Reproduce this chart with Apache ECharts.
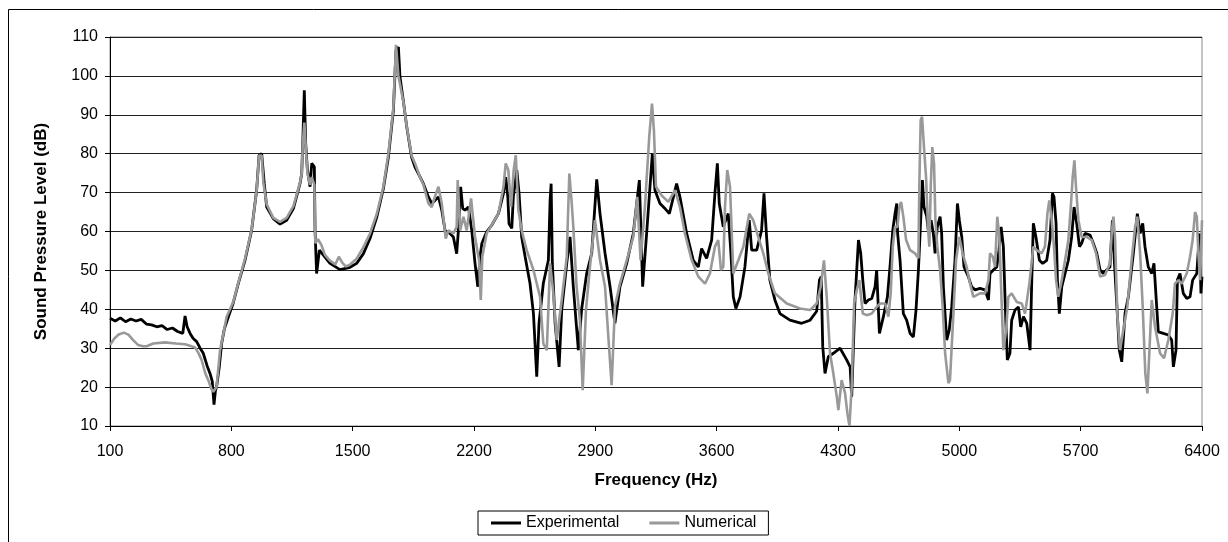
<!DOCTYPE html>
<html>
<head>
<meta charset="utf-8">
<script src="https://cdn.jsdelivr.net/npm/echarts@6/dist/echarts.min.js"></script>
<style>
  html, body { margin: 0; padding: 0; background: #fff; }
  #chartContainer { width: 1228px; height: 542px; }
</style>
</head>
<body>
<div id="chartContainer"></div>
<script>
// Frequency (Hz) / level (dB) pairs
const expFreq = [100,130,160,190,220,250,280,310,340,370,400,430,460,490,520,533,545,562,580,600,620,638,660,677,690,700,708,715,730,744,760,783,810,840,879,917,946,960,975,990,1004,1042,1081,1119,1158,1196,1206,1212,1221,1229,1239,1254,1264,1279,1283,1292,1308,1331,1369,1427,1485,1523,1562,1600,1639,1677,1706,1735,1750,1764,1773,1792,1812,1840,1860,1879,1908,1937,1956,1975,1995,2014,2033,2062,2081,2100,2110,2123,2135,2148,2168,2187,2206,2222,2235,2245,2273,2302,2341,2370,2383,2395,2402,2418,2427,2447,2460,2475,2495,2523,2543,2562,2575,2600,2629,2639,2645,2652,2668,2691,2706,2735,2754,2773,2802,2821,2850,2879,2908,2927,2956,2985,3013,3042,3081,3119,3154,3173,3196,3229,3244,3273,3300,3327,3369,3388,3427,3465,3494,3513,3542,3571,3590,3604,3615,3638,3667,3681,3696,3711,3735,3763,3788,3802,3831,3859,3873,3888,3907,3936,3965,4023,4090,4139,4177,4193,4203,4212,4225,4244,4273,4312,4350,4370,4379,4398,4418,4431,4443,4456,4475,4495,4514,4523,4539,4562,4585,4600,4616,4629,4639,4644,4658,4677,4696,4716,4735,4750,4764,4777,4787,4796,4812,4821,4837,4850,4860,4873,4889,4898,4908,4927,4942,4956,4975,4989,5000,5014,5027,5052,5071,5091,5119,5148,5168,5177,5196,5216,5229,5241,5254,5268,5277,5292,5302,5321,5341,5354,5370,5389,5408,5418,5427,5442,5462,5481,5504,5523,5537,5546,5558,5566,5577,5591,5610,5629,5648,5662,5677,5693,5706,5725,5754,5773,5793,5812,5831,5850,5869,5883,5894,5908,5923,5937,5956,5975,6004,6027,6043,6058,6071,6090,6110,6123,6135,6148,6177,6206,6225,6235,6250,6258,6273,6292,6312,6331,6346,6370,6385,6394,6400];
const expLevel = [37.7,37.0,37.8,36.8,37.5,37.0,37.4,36.2,36.0,35.5,35.8,34.8,35.2,34.3,33.8,38.3,35.5,33.8,32.5,31.7,30.0,28.7,25.5,23.5,21.5,15.5,19.0,20.1,25,31.2,35,38.1,41.5,46.6,52.6,60.3,70.6,79.6,80,72.3,66.3,63.3,61.9,62.9,65.9,72.3,74.9,82.6,96.3,82.6,75.8,71.5,77.5,76.6,60.3,49.2,55.2,53.9,51.8,50.2,50.8,51.8,54.3,58.2,63.7,71,79.1,91.2,106.6,107.4,99.7,93.7,86.9,79.1,76.5,74.9,72.3,68.9,67.2,68,68.9,65.5,60.3,59.5,58.6,54.3,60.3,71.5,65.9,65.5,66.3,60.3,51.8,45.8,53.5,56.9,59.9,61.6,64.6,69.8,74,68.9,62,60.8,68.9,75.8,69.8,58.6,53.5,46.7,38.9,22.7,36.4,46.7,52.6,68,72.3,51.8,36.4,25.2,39.8,51.8,58.6,45.8,29.5,40,49.2,54.4,73.4,64.6,54.4,45.8,36.4,45.8,51.8,59.5,73.2,45.8,59.5,80,70.6,67.2,66,64.6,72.3,68.9,59.5,52.6,50.9,55.6,53.1,57.8,69.8,77.5,67.2,61.2,64.6,55.2,43.2,40.2,43.2,50.9,62.9,55.2,55.2,60.3,69.8,58.6,47.5,42.4,38.9,37.2,36.4,37.2,39.5,47.5,48.4,30.4,23.5,27.8,28.7,30,27,25.2,17.5,42.4,57.8,54.4,47.5,41.5,42.4,42.8,45.8,50.1,33.8,38.1,43.2,50.9,60.3,64.6,67.2,59.5,52.6,38.9,37.2,33.8,32.9,39.8,50.1,62.9,73.2,66.3,63.8,60.3,62.9,59.5,54.4,61.2,63.8,59.5,45.8,32.1,34.7,40.6,52.6,67.2,62.9,58.6,50.9,48.4,45.8,45,45.4,45,42.4,49.2,50.1,50.9,55.2,61.2,56.1,37.2,27,28.7,37.2,39.8,40.6,35.5,38.1,36.4,29.5,47.5,62.1,58.6,52.6,51.8,52.6,57.8,69.8,68.9,62.1,47.5,38.9,45.8,49.2,52.6,58.6,66.3,62.1,56.1,57,59.5,59.1,57,54.4,50.1,49.2,50.1,50.9,62.9,52.6,41.5,29.5,26.5,38.9,43.2,54.4,64.6,59.5,62.1,56.1,50.9,49.2,51.8,43.2,34.2,33.8,33.4,32.1,25.2,29.5,47.5,49.2,44.1,42.8,43.2,47.5,49.2,59.5,44.1,48.4];

const numFreq = [100,125,150,180,206,235,263,290,311,350,417,480,533,570,590,610,629,650,667,685,696,706,715,735,755,773,810,840,879,917,946,960,975,985,1004,1042,1081,1119,1158,1196,1206,1212,1221,1229,1239,1254,1264,1279,1285,1300,1320,1340,1369,1400,1420,1440,1460,1485,1523,1562,1600,1639,1677,1706,1735,1750,1758,1764,1773,1792,1812,1840,1860,1888,1908,1937,1956,1975,1995,2014,2037,2052,2081,2100,2106,2120,2139,2158,2183,2206,2229,2239,2248,2273,2341,2370,2383,2398,2414,2429,2441,2456,2475,2504,2543,2581,2600,2620,2639,2658,2677,2706,2735,2750,2764,2773,2792,2811,2827,2846,2869,2898,2927,2956,2975,2994,3013,3042,3081,3119,3142,3161,3186,3211,3227,3238,3250,3282,3321,3360,3388,3417,3456,3494,3533,3561,3590,3609,3625,3638,3648,3661,3677,3696,3725,3754,3788,3811,3840,3869,3898,3936,4004,4081,4139,4177,4200,4219,4235,4254,4273,4293,4302,4321,4341,4354,4366,4379,4393,4408,4423,4443,4466,4495,4523,4543,4572,4591,4604,4616,4629,4643,4654,4664,4677,4693,4716,4744,4764,4769,4777,4785,4796,4808,4819,4827,4835,4844,4854,4862,4873,4889,4904,4918,4937,4946,4962,4981,5000,5019,5042,5062,5081,5119,5148,5168,5177,5193,5206,5219,5231,5245,5254,5270,5283,5302,5331,5360,5379,5404,5427,5446,5475,5494,5508,5519,5533,5546,5558,5571,5591,5610,5629,5643,5654,5664,5673,5687,5706,5735,5764,5789,5812,5840,5869,5879,5889,5898,5912,5927,5946,5969,5994,6014,6027,6043,6058,6073,6085,6096,6110,6129,6158,6181,6206,6231,6244,6264,6283,6312,6331,6346,6360,6370,6379,6389,6400];
const numLevel = [30.8,32.5,33.5,34.0,33.5,32,30.8,30.5,30.5,31.2,31.5,31.2,31.0,30.5,30.2,28.8,26.9,23.5,21.8,19.5,18.8,18.8,20.1,29.5,34,38.1,41.8,46.8,53,60.5,70.5,79.5,79.5,72.5,67,63.5,62.5,63.5,66.5,72.5,75,82,88,82,75,72,74,72,57,58,56.5,54,52.5,51.5,53.5,52,51,51.5,53,56,59.5,64.5,71.5,80,92,108,108.5,100,99.5,93.5,87,79.5,77.5,74,72,67.2,66.3,69,71.5,67.2,58.2,60.3,59.5,61.2,73.2,60.3,63.8,60.3,68.5,58.6,52.6,42.4,53.5,59.5,64.6,71.5,77.5,75.8,66.3,75.8,79.6,65.5,60.3,55.2,50.1,43.2,31.2,29.5,51.8,44.1,32.1,42.4,53.5,74.9,67.2,61.2,45.8,37.2,19.2,39.8,50.9,62.9,52.6,45.8,33,20.5,40.7,46.6,52.6,58.6,68.9,52.6,66.3,84.3,92.9,86,71.5,69.3,67.6,70.6,66.3,59.5,52.6,48.4,46.6,49.2,56.1,57.8,50.1,50.9,66.3,75.8,71.5,49.2,52.6,56.1,64.6,62.9,58.6,54.4,49.2,44.1,41.5,40.2,39.8,41.5,45.8,52.6,43.2,28.7,23.5,17.5,14.1,21.8,18.4,13.3,10,20.1,41.5,44.9,47.5,38.9,38.5,38.9,40.6,41.5,41.5,38.1,44.1,56.1,61.2,61.2,66.3,67.6,63.8,57.8,55.2,54.4,53.1,71.5,88.6,89.5,81.7,74,61.2,56.1,71.5,81.7,77.5,62.9,56.1,50.1,40.6,28.7,21,21.8,35.5,52.6,58.6,54.4,50.9,46.6,43.2,44.1,44.1,47.5,54.4,53.5,50.9,63.8,58.6,40.6,29.5,34.7,43.2,44.1,41.9,41.5,38.9,46.6,56.1,55.2,54.4,56.1,64.6,68,62.9,56.1,47.5,43.2,47.5,52.6,57.8,66.3,74,78.3,71.5,62.9,58.6,58.6,57.8,54.4,48.4,48.8,51.8,59.5,63.8,58.6,38.1,29.5,34.7,40.6,52.6,61.2,63.8,54.4,40.6,23.5,18.4,28.7,42.4,35.5,28.7,27.4,32.1,38.9,46.6,47.5,46.6,49.2,53.5,57.8,65,63.8,54.4,47.5,62.9];

const freqMin = 100, freqMax = 6400, freqStep = 700;
const levelMin = 10, levelMax = 110, levelStep = 10;

const fontFamily = '"Liberation Sans", Arial, sans-serif';

function pairs(xs, ys) {
    return xs.map((x, i) => [x, ys[i]]);
}

let chartDom = document.getElementById('chartContainer');
let myChart = echarts.init(chartDom, null, { renderer: 'canvas' });

let option = {
    animation: false,
    backgroundColor: '#fff',
    textStyle: { fontFamily: fontFamily, color: '#000' },
    graphic: [{
        type: 'rect',
        shape: { x: 8.5, y: 9.5, width: 1240, height: 560 },
        style: { fill: 'none', stroke: '#000', lineWidth: 1 },
        silent: true
    }],
    grid: {
        left: 110,
        right: 26,
        top: 37,
        bottom: 116,
        show: true,
        borderColor: '#888',
        borderWidth: 1
    },
    legend: {
        left: 478,
        top: 511,
        icon: 'rect',
        itemWidth: 30,
        itemHeight: 3,
        itemGap: 30,
        padding: [4, 12, 4, 13],
        borderColor: '#000',
        borderWidth: 1,
        textStyle: { fontSize: 16, color: '#000', fontFamily: fontFamily },
        data: ['Experimental', 'Numerical']
    },
    xAxis: {
        type: 'value',
        min: freqMin,
        max: freqMax,
        interval: freqStep,
        name: 'Frequency (Hz)',
        nameLocation: 'middle',
        nameGap: 46,
        nameTextStyle: { fontSize: 17, fontWeight: 'bold', color: '#000', fontFamily: fontFamily },
        axisLine: { show: true, lineStyle: { color: '#000', width: 1 } },
        axisTick: { show: true, length: 5, inside: false, lineStyle: { color: '#000' } },
        axisLabel: { fontSize: 16, color: '#000', margin: 18, fontFamily: fontFamily, formatter: v => String(v) },
        splitLine: { show: false }
    },
    yAxis: {
        type: 'value',
        min: levelMin,
        max: levelMax,
        interval: levelStep,
        name: 'Sound Pressure Level (dB)',
        nameLocation: 'middle',
        nameGap: 60,
        nameTextStyle: { fontSize: 17, fontWeight: 'bold', color: '#000', fontFamily: fontFamily },
        axisLine: { show: true, lineStyle: { color: '#000', width: 1 } },
        axisTick: { show: true, length: 5, inside: false, lineStyle: { color: '#000' } },
        axisLabel: { fontSize: 16, color: '#000', margin: 12, fontFamily: fontFamily, formatter: v => String(v) },
        splitLine: { show: true, lineStyle: { color: '#222', width: 1 } }
    },
    series: [
        {
            name: 'Experimental',
            type: 'line',
            data: pairs(expFreq, expLevel),
            showSymbol: false,
            symbol: 'none',
            lineStyle: { color: '#000', width: 2.8 },
            itemStyle: { color: '#000' }
        },
        {
            name: 'Numerical',
            type: 'line',
            data: pairs(numFreq, numLevel),
            showSymbol: false,
            symbol: 'none',
            lineStyle: { color: '#999', width: 2.6 },
            itemStyle: { color: '#999' }
        }
    ]
};

myChart.setOption(option);
</script>
</body>
</html>
